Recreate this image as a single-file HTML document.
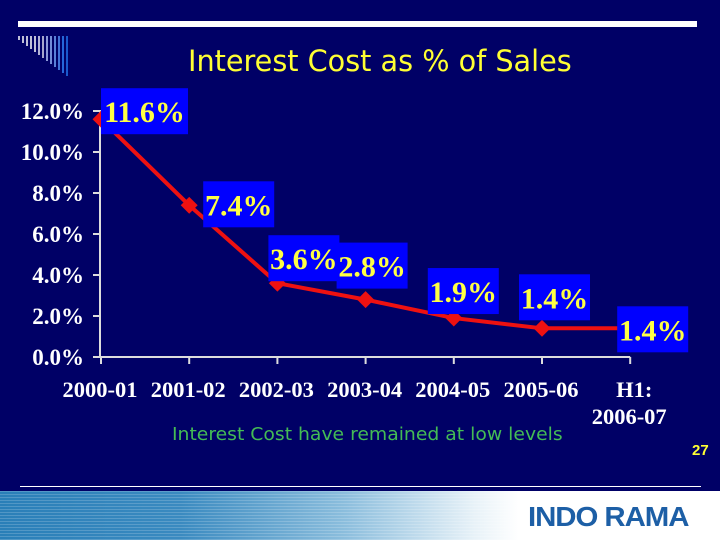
<!DOCTYPE html>
<html><head><meta charset="utf-8"><style>
html,body{margin:0;padding:0}
body{width:720px;height:540px;background:#000066;position:relative;overflow:hidden;font-family:"Liberation Serif",serif}
.abs{position:absolute}
</style></head><body>
<div class="abs" style="left:18px;top:21px;width:679px;height:6px;background:#fff"></div>
<svg class="abs" style="left:14px;top:34px" width="70" height="45">
<g stroke-width="1.5">
<line x1="5" y1="2" x2="5" y2="6" stroke="#fff"/><line x1="9" y1="2" x2="9" y2="9" stroke="#fff"/>
<line x1="13" y1="2" x2="13" y2="12" stroke="#fff"/><line x1="17" y1="2" x2="17" y2="15" stroke="#fff"/>
<line x1="21" y1="2" x2="21" y2="18" stroke="#fff"/><line x1="25" y1="2" x2="25" y2="21" stroke="#eef"/>
<line x1="29" y1="2" x2="29" y2="24" stroke="#dde"/><line x1="33" y1="2" x2="33" y2="27" stroke="#bcf"/>
<line x1="37" y1="2" x2="37" y2="30" stroke="#9bf"/><line x1="41" y1="2" x2="41" y2="33" stroke="#7af"/>
<line x1="45" y1="2" x2="45" y2="36" stroke="#59f"/><line x1="49" y1="2" x2="49" y2="39" stroke="#38f"/>
<line x1="53" y1="2" x2="53" y2="42" stroke="#27e"/>
</g></svg>
<div class="abs" style="left:188px;top:44px;color:#ffff33;font-family:'DejaVu Sans Condensed','DejaVu Sans',sans-serif;font-size:29px;white-space:nowrap;transform:scaleX(1.1);transform-origin:left">Interest Cost as % of Sales</div>

<svg class="abs" id="chart" style="left:0;top:0" width="720" height="440"></svg>

<div class="abs" style="left:172px;top:424px;color:#44bb55;font-family:'DejaVu Sans Condensed','DejaVu Sans',sans-serif;font-size:18px;white-space:nowrap;transform:scaleX(1.16);transform-origin:left">Interest Cost have remained at low levels</div>
<div class="abs" style="left:692px;top:442px;color:#ffff33;font-family:'Liberation Sans',sans-serif;font-size:15px;font-weight:bold">27</div>
<div class="abs" style="left:20px;top:486px;width:681px;height:1px;background:#fff"></div>
<div class="abs" style="left:0;top:491px;width:720px;height:49px;background:linear-gradient(90deg,#2a7fb8 0%,#3a8ac0 25%,#8cbedd 48%,#e8f2f8 66%,#fff 72%)"></div>
<div class="abs" style="left:0;top:491px;width:520px;height:49px;background:repeating-linear-gradient(180deg,rgba(255,255,255,0.18) 0 1px,rgba(0,0,0,0) 1px 3px)"></div>
<div class="abs" style="left:528px;top:501px;color:#1d5fa6;font-family:'Liberation Sans',sans-serif;font-weight:900;font-size:28px;letter-spacing:-1px;white-space:nowrap;transform:scaleX(1.05);transform-origin:left">INDO RAMA</div>

<script>
const categories=["2000-01","2001-02","2002-03","2003-04","2004-05","2005-06","H1:|2006-07"];
const values=[11.6,7.4,3.6,2.8,1.9,1.4,1.4];
const labels=["11.6%","7.4%","3.6%","2.8%","1.9%","1.4%","1.4%"];
const yTicks=[0,2,4,6,8,10,12];
const labelOffsets=[[0,-31],[14,-24],[-9,-48],[-29,-57],[-26,-50],[-23,-54],[-13,-22]];
const NS="http://www.w3.org/2000/svg";
const svg=document.getElementById('chart');
const x0=101,dx=88.2,y0=357,py=20.5;
const X=i=>x0+i*dx, Y=v=>y0-v*py;
function mk(t,a){const e=document.createElementNS(NS,t);for(const k in a)e.setAttribute(k,a[k]);svg.appendChild(e);return e;}
let e=mk('line',{x1:100,y1:Y(12)-1,x2:100,y2:y0,stroke:'#ddd','stroke-width':2});


e=mk('line',{x1:100,y1:y0,x2:X(6),y2:y0,stroke:'#ddd','stroke-width':2});


yTicks.forEach(v=>{
 let t=mk('line',{x1:93,y1:Y(v),x2:100,y2:Y(v),stroke:'#ddd','stroke-width':2});
 
 
 let l=mk('text',{x:84,y:Y(v)+8,'text-anchor':'end',fill:'#fff','font-size':23,'font-weight':'bold','font-family':'Liberation Serif, serif'});
 l.textContent=v.toFixed(1)+'%';
 
 
});
categories.forEach((c,i)=>{
 let t=mk('line',{x1:X(i),y1:y0,x2:X(i),y2:y0+7,stroke:'#ddd','stroke-width':2});
 
 
 c.split('|').forEach((p,j)=>{
  let l=mk('text',{x:X(i)-1+(i==6&&j==0?5:0),y:397+j*27,'text-anchor':'middle',fill:'#fff','font-size':22.5,'font-weight':'bold','font-family':'Liberation Serif, serif'});
  l.textContent=p;
  
  
 });
});
let pts=values.map((v,i)=>X(i)+','+Y(v)).join(' ');
e=mk('polyline',{points:pts,fill:'none',stroke:'#ee1111','stroke-width':4,'stroke-linejoin':'round'});


values.forEach((v,i)=>{
 let m=mk('rect',{x:X(i)-6,y:Y(v)-6,width:12,height:12,fill:'#ee1111',transform:`rotate(45 ${X(i)} ${Y(v)})`});
 
 
});
values.forEach((v,i)=>{
 const bx=X(i)+labelOffsets[i][0], by=Y(v)+labelOffsets[i][1];
 let r=mk('rect',{x:bx,y:by,width:i<1?87:71,height:46,fill:'#0000ff'});
 
 
 let t=mk('text',{x:bx+(i<1?43.5:35.5),y:by+34,'text-anchor':'middle',fill:'#ffff44','font-size':30,'font-weight':'bold','font-family':'Liberation Serif, serif'});
 t.textContent=labels[i];
 
 
});
</script>
</body></html>
